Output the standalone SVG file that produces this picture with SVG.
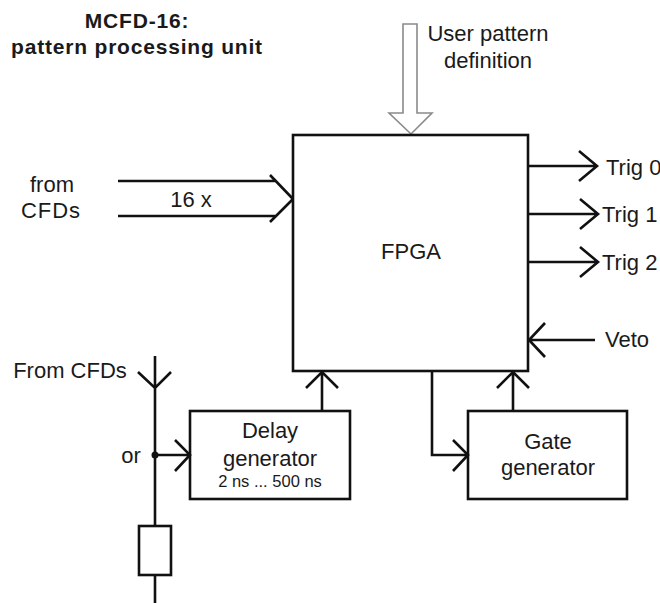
<svg xmlns="http://www.w3.org/2000/svg" width="660" height="603" viewBox="0 0 660 603">
<style>
text{font-family:"Liberation Sans",Arial,sans-serif;fill:#1a1a1a;}
.t{font-size:22px;}
.s{font-size:16.5px;}
.b{font-size:21px;font-weight:bold;}
.ln{stroke:#111;stroke-width:2.6;fill:none;}
.bx{stroke:#111;stroke-width:2.6;fill:#fff;}
</style>
<rect width="660" height="603" fill="#fff"/>
<g id="title">
<text class="b" x="137" y="28" text-anchor="middle" letter-spacing="0.8">MCFD-16:</text>
<text class="b" x="137" y="54" text-anchor="middle" letter-spacing="0.8">pattern processing unit</text>
</g>
<g id="user-pattern">
<polygon points="403,24 417,24 417,113 432,113 411,134 389,113 403,113" fill="#fff" stroke="#8a8a8a" stroke-width="1.6"/>
<text class="t" x="488" y="41" text-anchor="middle">User pattern</text>
<text class="t" x="488" y="68" text-anchor="middle">definition</text>
</g>
<g id="fpga">
<rect class="bx" x="293" y="135" width="235" height="236"/>
<text class="t" x="411" y="259" text-anchor="middle">FPGA</text>
</g>
<g id="delay">
<rect class="bx" x="190" y="411" width="160" height="88"/>
<text class="t" x="270" y="438" text-anchor="middle">Delay</text>
<text class="t" x="270" y="466" text-anchor="middle">generator</text>
<text class="s" x="270" y="487" text-anchor="middle">2 ns ... 500 ns</text>
</g>
<g id="gate">
<rect class="bx" x="468" y="411" width="159" height="88"/>
<text class="t" x="548" y="449" text-anchor="middle">Gate</text>
<text class="t" x="548" y="475" text-anchor="middle">generator</text>
</g>
<g id="resistor">
<rect class="bx" x="139" y="526" width="32" height="49"/>
</g>
<g id="labels">
<text class="t" x="52" y="192" text-anchor="middle">from</text>
<text class="t" x="51" y="218" text-anchor="middle" letter-spacing="1">CFDs</text>
<text class="t" x="191" y="207" text-anchor="middle">16 x</text>
<text class="t" x="606" y="175">Trig 0</text>
<text class="t" x="602" y="222">Trig 1</text>
<text class="t" x="602" y="270">Trig 2</text>
<text class="t" x="605" y="347">Veto</text>
<text class="t" x="70" y="378" text-anchor="middle">From CFDs</text>
<text class="t" x="131" y="463" text-anchor="middle">or</text>
</g>
<g id="connectors" class="ln">
<path d="M118,181 H275 M270,175 L293,199 M118,216 H275 M270,222 L293,199"/>
<path d="M528,166 H597 M579,151 L597,166 L579,181"/>
<path d="M528,214 H598 M580,199 L598,214 L580,229"/>
<path d="M528,262 H598 M580,247 L598,262 L580,277"/>
<path d="M595,340 H529 M545,323 L529,340 L545,357"/>
<path d="M322,411 V372 M306,388 L322,372 L338,388"/>
<path d="M513,411 V372 M497,388 L513,372 L529,388"/>
<path d="M432,371 V455 H467 M453,440 L468,455 L453,471"/>
<path d="M155,356 V526 M155,575 V603 M138,372 L155,388 L171,372"/>
<path d="M155,455 H189 M175,440 L190,455 L175,471"/>
</g>
<circle cx="155" cy="455" r="3.5" fill="#111"/>
</svg>
